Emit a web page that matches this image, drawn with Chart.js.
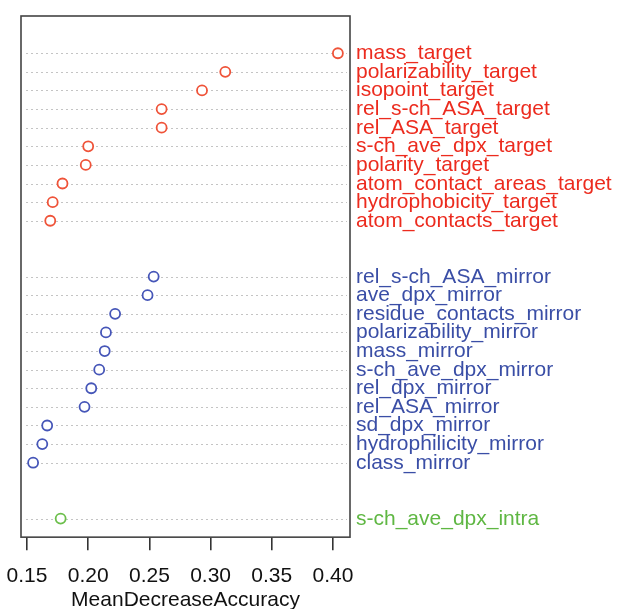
<!DOCTYPE html>
<html>
<head>
<meta charset="utf-8">
<script src="https://cdn.jsdelivr.net/npm/chart.js@4/dist/chart.umd.min.js"></script>
<style>
  html, body { margin: 0; padding: 0; background: #fff; }
  #wrap { width: 620px; height: 609px; }
</style>
</head>
<body>
<div id="wrap"><canvas id="chart" width="620" height="609"></canvas></div>
<script>
// variable importance
const targetLabels = ['mass_target', 'polarizability_target', 'isopoint_target', 'rel_s-ch_ASA_target',
  'rel_ASA_target', 's-ch_ave_dpx_target', 'polarity_target', 'atom_contact_areas_target',
  'hydrophobicity_target', 'atom_contacts_target'];
const targetValues = [0.404, 0.312, 0.293, 0.260, 0.260, 0.200, 0.198, 0.179, 0.171, 0.169];

const mirrorLabels = ['rel_s-ch_ASA_mirror', 'ave_dpx_mirror', 'residue_contacts_mirror', 'polarizability_mirror',
  'mass_mirror', 's-ch_ave_dpx_mirror', 'rel_dpx_mirror', 'rel_ASA_mirror', 'sd_dpx_mirror',
  'hydrophilicity_mirror', 'class_mirror'];
const mirrorValues = [0.2535, 0.2485, 0.222, 0.2145, 0.2135, 0.209, 0.2025, 0.197, 0.1665, 0.1625, 0.155];

const intraLabels = ['s-ch_ave_dpx_intra'];
const intraValues = [0.1775];

const xTicks = [0.15, 0.20, 0.25, 0.30, 0.35, 0.40];

// rows counted from the top of the box; two blank rows between groups
const groups = [
  { labels: targetLabels, values: targetValues, dot: '#ef5339', text: '#ec2b1e', start: 2 },
  { labels: mirrorLabels, values: mirrorValues, dot: '#4656b8', text: '#3a4ea6', start: 14 },
  { labels: intraLabels, values: intraValues, dot: '#6cbf4c', text: '#5fb743', start: 27 }
];

const FONT = '"Liberation Sans", Arial, Helvetica, sans-serif';

const datasets = groups.map(g => ({
  data: g.values.map((v, i) => ({ x: v, y: g.start + i })),
  pointStyle: 'circle',
  pointRadius: 5,
  pointHoverRadius: 5,
  pointBorderWidth: 1.8,
  pointBorderColor: g.dot,
  pointBackgroundColor: '#fff'
}));

// dotted row lines, frame box and the labels on the right
const dotPlot = {
  id: 'dotPlot',
  beforeDatasetsDraw(chart) {
    const { ctx, chartArea: a, scales: { y } } = chart;
    ctx.save();
    ctx.strokeStyle = '#c4c4c4';
    ctx.lineWidth = 1;
    ctx.setLineDash([2, 3]);
    groups.forEach(g => g.values.forEach((v, i) => {
      const py = Math.round(y.getPixelForValue(g.start + i)) + 0.5;
      ctx.beginPath();
      ctx.moveTo(a.left + 5, py);
      ctx.lineTo(a.right - 3, py);
      ctx.stroke();
    }));
    ctx.restore();
  },
  afterDraw(chart) {
    const { ctx, chartArea: a, scales: { y } } = chart;
    ctx.save();
    ctx.strokeStyle = '#444';
    ctx.lineWidth = 1.6;
    ctx.strokeRect(a.left, a.top, a.right - a.left, a.bottom - a.top);
    ctx.font = '21px ' + FONT;
    ctx.textAlign = 'left';
    ctx.textBaseline = 'alphabetic';
    groups.forEach(g => g.labels.forEach((lab, i) => {
      ctx.fillStyle = g.text;
      ctx.fillText(lab, a.right + 6, y.getPixelForValue(g.start + i) + 6);
    }));
    ctx.restore();
  }
};

new Chart(document.getElementById('chart'), {
  type: 'scatter',
  data: { datasets },
  plugins: [dotPlot],
  options: {
    responsive: false,
    animation: false,
    layout: { padding: { left: 21, top: 16, right: 270, bottom: 0 } },
    plugins: { legend: { display: false }, tooltip: { enabled: false } },
    scales: {
      x: {
        min: 0.1451,
        max: 0.4139,
        afterBuildTicks: s => { s.ticks = xTicks.map(v => ({ value: v })); },
        afterFit: s => { s.paddingLeft = 0; s.paddingRight = 0; },
        border: { display: false },
        grid: { drawOnChartArea: false, drawTicks: true, tickLength: 13, color: '#333', lineWidth: 1.6 },
        ticks: {
          color: '#111',
          padding: 13,
          maxRotation: 0,
          font: { family: FONT, size: 21, lineHeight: 1.24 },
          callback: v => v.toFixed(2)
        },
        title: {
          display: true,
          text: 'MeanDecreaseAccuracy',
          color: '#111',
          font: { family: FONT, size: 21, lineHeight: 0.8 },
          padding: { top: -10, bottom: 0 }
        }
      },
      y: {
        display: false,
        reverse: true,
        min: 0,
        max: 28
      }
    }
  }
});
</script>
</body>
</html>
